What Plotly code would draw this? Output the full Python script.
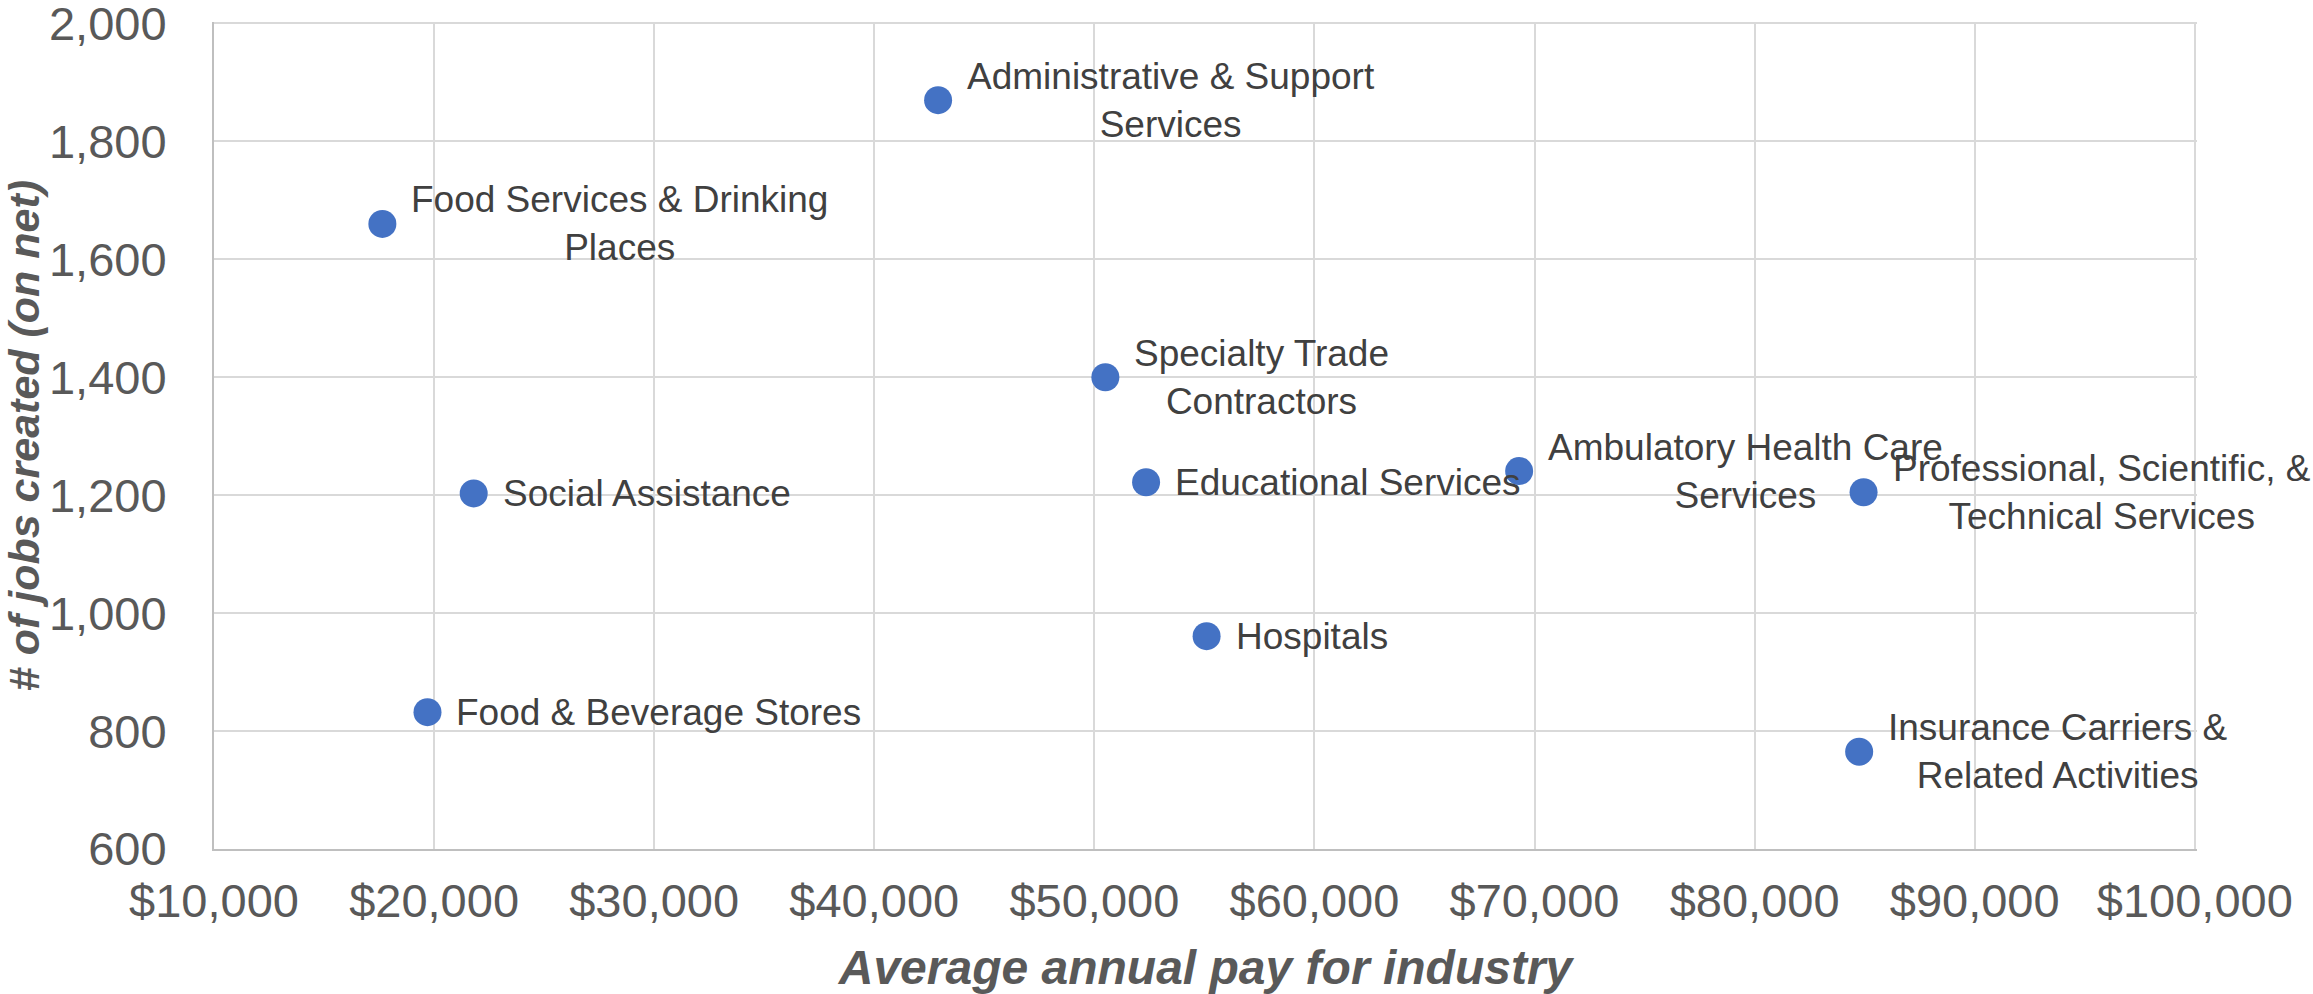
import plotly.graph_objects as go

industries = [
    "Administrative & Support<br>Services",
    "Food Services & Drinking<br>Places",
    "Specialty Trade<br>Contractors",
    "Social Assistance",
    "Educational Services",
    "Ambulatory Health Care<br>Services",
    "Professional, Scientific, &<br>Technical Services",
    "Hospitals",
    "Food & Beverage Stores",
    "Insurance Carriers &<br>Related Activities",
]
avg_pay = [42900, 17650, 50500, 21800, 52350, 69300, 84950, 55100, 19700, 84750]
jobs_created = [1870, 1660, 1400, 1203, 1222, 1241, 1205, 961, 832, 765]

x_ticks = list(range(10000, 100001, 10000))
x_ticktext = [f"${v:,}" for v in x_ticks]
y_ticks = list(range(600, 2001, 200))
y_ticktext = [f"{v:,}" for v in y_ticks]

FONT = "Liberation Sans, Arial, sans-serif"

fig = go.Figure()
fig.add_trace(go.Scatter(
    x=avg_pay, y=jobs_created, mode="markers",
    marker=dict(size=28, color="#4472C4"),
    hoverinfo="skip", showlegend=False,
))

for name, xv, yv in zip(industries, avg_pay, jobs_created):
    fig.add_annotation(
        x=xv, y=yv, text=name, showarrow=False,
        xanchor="left", yanchor="middle", align="center",
        xshift=27, font=dict(family=FONT, size=37, color="#404040"),
    )

fig.update_layout(
    width=2313, height=994,
    margin=dict(l=214, r=116, t=21.5, b=145),
    plot_bgcolor="white", paper_bgcolor="white",
    font=dict(family=FONT, color="#595959"),
)
fig.update_xaxes(
    range=[10000, 100100], tickvals=x_ticks, ticktext=x_ticktext,
    tickfont=dict(size=47, color="#595959"),
    showgrid=True, gridcolor="#D9D9D9", gridwidth=2,
    showline=True, linecolor="#BFBFBF", linewidth=2,
    zeroline=False, ticklabelstandoff=10, ticklabeloverflow="allow",
    title=dict(text="<b><i>Average annual pay for industry</i></b>",
               font=dict(size=48, color="#595959"), standoff=26),
    automargin=False,
)
fig.update_yaxes(
    range=[600, 2002.5], tickvals=y_ticks, ticktext=y_ticktext,
    tickfont=dict(size=47, color="#595959"),
    showgrid=True, gridcolor="#D9D9D9", gridwidth=2,
    showline=True, linecolor="#BFBFBF", linewidth=2,
    zeroline=False, ticklabelstandoff=36, ticklabeloverflow="allow",
    title=dict(text="<b><i># of jobs created (on net)</i></b>",
               font=dict(size=43, color="#595959"), standoff=16),
    automargin=False,
)

fig.write_html("out.html", config={"displayModeBar": False},
               post_script="document.body.style.margin='0';")
